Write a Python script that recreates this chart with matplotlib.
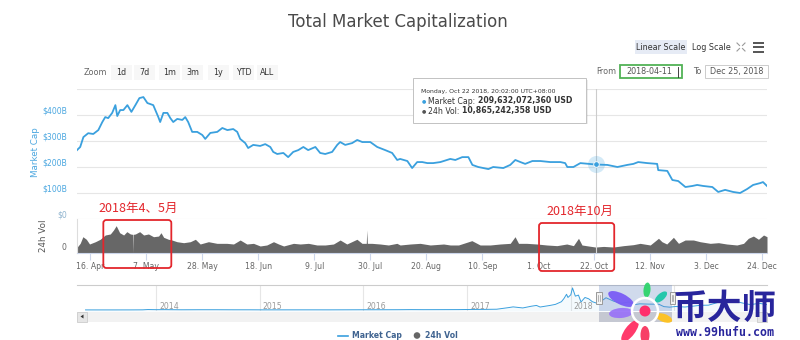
import datetime as dt

import matplotlib
matplotlib.use("Agg")
import matplotlib.pyplot as plt
import matplotlib.dates as mdates
from matplotlib import transforms
from matplotlib.patches import Rectangle, FancyBboxPatch, Ellipse, Circle, Polygon
import numpy as np

plt.rcParams['font.family'] = ['DejaVu Sans']
CJK = ['Noto Sans CJK SC', 'DejaVu Sans']

# ---------------------------------------------------------------- data
START = dt.datetime(2018, 4, 11)          # first point of the selected range
SEL_END = dt.datetime(2018, 12, 25)       # "To" date of the selected range

# total market cap, days after START -> billions of USD
mcap_days = [0.0, 1.2, 2.4, 4.2, 6.1, 8.0, 9.5, 10.6, 11.7, 13.2, 14.4, 15.1, 16.2, 17.4,
             18.9, 20.4, 21.9, 23.4, 24.9, 26.4, 28.6, 29.4, 30.5, 31.2, 32.4, 33.9, 35.0,
             36.1, 37.6, 39.5, 40.6, 41.7, 43.2, 45.1, 47.0, 48.1, 50.0, 52.6, 54.5, 56.4,
             58.6, 60.1, 61.2, 63.1, 64.2, 66.1, 68.7, 70.6, 72.5, 73.6, 75.1, 77.4, 79.2,
             81.1, 83.0, 84.9, 86.7, 89.4, 91.2, 93.1, 95.7, 97.6, 98.7, 100.6, 103.2, 105.1,
             107.0, 110.0, 112.6, 115.6, 118.2, 120.1, 121.2, 123.9, 125.7, 127.6, 129.5,
             131.4, 133.6, 136.3, 140.0, 141.9, 144.5, 146.8, 148.3, 150.5, 154.3, 156.1,
             159.9, 162.5, 164.4, 166.3, 168.1, 170.8, 173.8, 177.5, 181.3, 183.1, 183.9,
             186.2, 188.8, 191.8, 194.501, 198.9, 202.7, 206.4, 208.7, 210.5, 213.9, 217.6,
             218.0, 221.4, 223.3, 225.5, 228.2, 230.8, 232.6, 234.9, 238.3, 240.5, 243.1,
             246.1, 248.7, 251.3, 253.6, 256.2, 257.3, 258.8]
mcap_bn = [265, 277, 315, 330, 327, 342, 373, 392, 388, 408, 438, 396, 419, 419, 438, 412,
           438, 465, 469, 446, 438, 419, 392, 373, 408, 408, 388, 373, 385, 381, 392, 373,
           335, 335, 323, 308, 331, 335, 350, 342, 346, 335, 308, 292, 273, 285, 281, 288,
           277, 258, 250, 254, 238, 258, 265, 277, 265, 277, 254, 250, 258, 285, 296, 285,
           292, 304, 296, 296, 277, 265, 254, 227, 231, 223, 196, 219, 219, 215, 215, 219,
           231, 227, 238, 238, 208, 200, 192, 200, 196, 208, 227, 219, 212, 223, 223, 219,
           219, 215, 200, 200, 215, 212, 209.632, 208, 200, 208, 212, 219, 215, 212, 188,
           185, 150, 146, 123, 127, 131, 127, 123, 104, 112, 104, 100, 115, 131, 138, 142,
           127]

# 24h volume, days after START -> billions of USD
vol_days = [0.2, 1.2, 2.2, 3.5, 4.7, 6.9, 8.7, 10.6, 12.5, 13.7, 14.7, 16.0, 17.5, 18.7,
            20.0, 20.9, 21.0, 21.1, 21.9, 23.5, 25.0, 26.8, 28.7, 30.6, 31.5, 32.5, 34.3,
            35.6, 37.5, 40.0, 42.5, 44.4, 46.2, 49.3, 52.5, 56.2, 58.7, 61.2, 63.7, 66.2,
            68.7, 71.2, 73.7, 75.6, 77.5, 81.2, 83.7, 86.8, 90.0, 93.1, 96.2, 98.7, 101.2,
            105.0, 106.9, 108.5, 108.7, 108.9, 110.6, 113.7, 116.8, 120.0, 121.2, 125.0,
            128.7, 132.5, 137.5, 140.0, 143.1, 148.1, 151.2, 155.0, 158.7, 162.5, 164.3,
            165.6, 168.7, 172.5, 176.2, 180.0, 183.7, 186.2, 188.1, 189.4, 191.8, 194.501,
            197.5, 201.2, 205.0, 208.7, 211.2, 215.0, 218.1, 219.4, 221.2, 223.7, 225.6,
            228.1, 231.2, 233.7, 237.5, 240.6, 243.7, 247.5, 250.0, 251.8, 253.7, 255.6,
            257.5, 258.8]
vol_bn = [11.5, 17.7, 29.7, 25.0, 16.4, 20.6, 25.0, 32.8, 34.7, 42.0, 49.8, 37.0, 32.8, 38.9,
          34.7, 34.0, 0.0, 34.0, 34.7, 38.9, 32.8, 34.7, 29.7, 30.9, 37.0, 28.6, 25.0, 23.7,
          20.6, 18.8, 20.6, 25.0, 16.4, 20.6, 17.6, 17.6, 16.4, 23.7, 16.4, 17.6, 12.8, 14.6,
          20.6, 16.4, 12.8, 17.6, 16.4, 17.6, 14.6, 14.6, 16.4, 23.7, 16.4, 25.0, 17.6, 17.6,
          42.0, 17.6, 17.6, 16.4, 14.6, 17.6, 14.6, 16.4, 17.6, 14.6, 16.4, 14.6, 14.6, 22.5,
          14.6, 14.6, 16.4, 17.6, 29.7, 17.6, 17.6, 16.4, 14.6, 13.4, 16.4, 13.4, 26.8, 14.6,
          12.8, 10.865, 12.0, 10.9, 13.4, 15.2, 17.6, 14.6, 26.8, 20.6, 16.4, 28.6, 17.6,
          23.7, 23.7, 20.6, 17.6, 18.8, 16.4, 14.6, 17.6, 26.8, 30.9, 25.0, 32.8, 29.7]

# hovered point shown in the tooltip
hover_time = dt.datetime(2018, 10, 22, 12, 2)     # 20:02:00 UTC+08:00
hover_label = "Monday, Oct 22 2018, 20:02:00 UTC+08:00"
hover_mcap_usd = 209632072360
hover_vol_usd = 10865242358

# axis ticks
mcap_ticks = [0, 100, 200, 300, 400, 500]
mcap_tick_labels = ["$0", "$100B", "$200B", "$300B", "$400B", ""]
x_tick_dates = ["2018-04-16", "2018-05-07", "2018-05-28", "2018-06-18", "2018-07-09",
                "2018-07-30", "2018-08-20", "2018-09-10", "2018-10-01", "2018-10-22",
                "2018-11-12", "2018-12-03", "2018-12-24"]
x_tick_labels = ["16. Apr", "7. May", "28. May", "18. Jun", "9. Jul", "30. Jul", "20. Aug",
                 "10. Sep", "1. Oct", "22. Oct", "12. Nov", "3. Dec", "24. Dec"]

# navigator: full history of the total market cap, billions of USD
nav_dates = ["2013-04-28", "2013-06-01", "2013-08-01", "2013-10-01", "2013-11-15",
             "2013-12-04", "2014-01-01", "2014-02-01", "2014-03-01", "2014-04-01",
             "2014-06-01", "2014-08-01", "2014-10-01", "2014-12-01", "2015-01-15",
             "2015-04-01", "2015-07-01", "2015-09-01", "2015-11-05", "2016-01-01",
             "2016-03-01", "2016-05-01", "2016-06-18", "2016-08-01", "2016-10-01",
             "2016-12-01", "2017-01-05", "2017-03-01", "2017-04-15", "2017-05-25",
             "2017-06-12", "2017-07-16", "2017-08-15", "2017-09-02", "2017-09-15",
             "2017-10-20", "2017-11-08", "2017-11-29", "2017-12-08", "2017-12-17",
             "2017-12-22", "2018-01-01", "2018-01-07", "2018-01-17", "2018-01-28",
             "2018-02-06", "2018-02-20", "2018-03-05", "2018-03-18", "2018-04-01",
             "2018-04-11", "2018-05-05", "2018-06-01", "2018-06-28", "2018-07-25",
             "2018-08-14", "2018-09-01", "2018-10-01", "2018-11-07", "2018-11-25",
             "2018-12-15", "2019-01-05", "2019-02-07", "2019-03-01", "2019-04-03",
             "2019-05-01", "2019-05-30", "2019-06-26", "2019-07-17", "2019-08-06",
             "2019-08-29", "2019-09-26", "2019-10-27", "2019-11-23"]
nav_bn = [1.6, 1.3, 1.2, 1.7, 4.0, 15.0, 10.0, 11.0, 8.5, 6.0, 8.0, 8.0, 5.8, 5.5, 3.5,
          3.9, 4.2, 3.8, 5.5, 7.0, 7.5, 8.8, 12.5, 10.5, 11.5, 13.0, 17.0, 21.0, 27.0, 85.0,
          115.0, 75.0, 140.0, 170.0, 110.0, 170.0, 210.0, 310.0, 430.0, 590.0, 470.0,
          570.0, 830.0, 520.0, 560.0, 300.0, 470.0, 420.0, 310.0, 260.0, 270.0, 460.0,
          330.0, 250.0, 300.0, 200.0, 230.0, 220.0, 215.0, 125.0, 105.0, 130.0, 110.0,
          135.0, 175.0, 180.0, 270.0, 360.0, 280.0, 320.0, 260.0, 200.0, 250.0, 200.0]
nav_years = [2014, 2015, 2016, 2017, 2018, 2019]
nav_year_labels = ["2014", "2015", "2016", "2017", "2018", ""]   # 2019 sits under the site mark

# highlighted periods with their captions
highlight_spans = [("2018年4、5月", "2018-04-20 21:00", "2018-05-16 09:00"),
                   ("2018年10月", "2018-10-01 07:00", "2018-10-29 12:00")]

range_buttons = ["1d", "7d", "1m", "3m", "1y", "YTD", "ALL"]
legend_items = ["Market Cap", "24h Vol"]

# ---------------------------------------------------------------- style
BLUE = '#3aa0de'
AXIS_BLUE = '#4ba7e0'
VOL_GREY = '#676767'
GRID = '#e6e6e6'
RED = '#e3262c'
INK = '#333333'

W, H = 800, 340
fig = plt.figure(figsize=(W / 100, H / 100), dpi=100)
fig.patch.set_facecolor('white')


def frame(x0, y0, x1, y1):
    return [x0 / W, 1 - y1 / H, (x1 - x0) / W, (y1 - y0) / H]


def days_to_dates(days):
    return [START + dt.timedelta(days=d) for d in days]


ax = fig.add_axes(frame(77, 89, 767, 219))
axv = fig.add_axes(frame(77, 219, 767, 253), sharex=ax)
axn = fig.add_axes(frame(77, 285, 767, 311))
ov = fig.add_axes([0, 0, 1, 1], zorder=10)
ov.set_xlim(0, W)
ov.set_ylim(H, 0)
ov.axis('off')
ov.patch.set_alpha(0)

# ---------------------------------------------------------------- market cap
mdates_list = days_to_dates(mcap_days)
ax.plot(mdates_list, mcap_bn, color=BLUE, lw=1.3, solid_joinstyle='round', zorder=3)
ax.set_xlim(mdates_list[0], mdates_list[-1])
ax.set_ylim(0, 500)
ax.set_yticks(mcap_ticks)
ax.yaxis.grid(True, color=GRID, lw=0.8)
ax.set_axisbelow(True)
ax.tick_params(left=False, labelleft=False, bottom=False, labelbottom=False)
for s in ax.spines.values():
    s.set_visible(False)

ylab_tf = (transforms.blended_transform_factory(ax.transAxes, ax.transData)
           + transforms.ScaledTranslation(0, 4 / 100, fig.dpi_scale_trans))
for v, t in zip(mcap_ticks, mcap_tick_labels):
    ax.text(-10 / 690, v, t, transform=ylab_tf, ha='right', va='center',
            fontsize=5.6, color=AXIS_BLUE if v else '#8fb4cf')
fig.text(35 / W, 1 - 152 / H, "Market Cap", rotation=90, ha='center', va='center',
         fontsize=6.3, color=AXIS_BLUE)

# crosshair and hovered point
hover_mcap = hover_mcap_usd / 1e9
ax.axvline(hover_time, color='#cccccc', lw=0.8, zorder=2)
ax.scatter([hover_time], [hover_mcap], s=150, color=BLUE, alpha=0.22, lw=0, zorder=4)
ax.scatter([hover_time], [hover_mcap], s=16, color=BLUE, edgecolor='white', lw=0.6, zorder=5)

# ---------------------------------------------------------------- volume
vdates = days_to_dates(vol_days)
axv.fill_between(vdates, vol_bn, 0, color=VOL_GREY, lw=0, zorder=2)
axv.axvline(hover_time, color='#d6d6d6', lw=0.8, zorder=3)
axv.set_ylim(0, 62)
for side in ('top', 'right'):
    axv.spines[side].set_visible(False)
axv.spines['left'].set_color('#dddddd')
axv.spines['left'].set_linewidth(0.8)
axv.spines['bottom'].set_color('#ccd6eb')
axv.spines['bottom'].set_linewidth(0.8)
axv.set_xticks([dt.datetime.strptime(d, '%Y-%m-%d') for d in x_tick_dates])
axv.set_xticklabels(x_tick_labels)
axv.tick_params(axis='x', length=5, width=0.8, color='#ccd6eb', labelsize=5.6,
                labelcolor='#666666', pad=1.5)
axv.tick_params(axis='y', left=False, labelleft=False)
vlab_tf = (transforms.blended_transform_factory(axv.transAxes, axv.transData)
           + transforms.ScaledTranslation(0, 5 / 100, fig.dpi_scale_trans))
axv.text(-11 / 690, 0, "0", transform=vlab_tf, ha='right', va='center', fontsize=5.6,
         color='#666666')
fig.text(43.5 / W, 1 - 236 / H, "24h Vol", rotation=90, ha='center', va='center',
         fontsize=6.3, color='#555555')

# ---------------------------------------------------------------- navigator
ndates = [dt.datetime.strptime(d, '%Y-%m-%d') for d in nav_dates]
axn.plot(ndates, nav_bn, color=BLUE, lw=0.7, zorder=3)
axn.fill_between(ndates, nav_bn, -40, color=BLUE, alpha=0.05, lw=0)
axn.set_ylim(-40, 940)
axn.set_xlim(dt.datetime(2013, 3, 29), ndates[-1])
year_dates = [dt.datetime(y, 1, 1) for y in nav_years]
axn.set_xticks(year_dates)
axn.xaxis.grid(True, color=GRID, lw=0.8)
axn.set_axisbelow(True)
axn.tick_params(length=0, labelbottom=False, left=False, labelleft=False)
for side in ('bottom', 'left', 'right'):
    axn.spines[side].set_visible(False)
axn.spines['top'].set_color('#cccccc')
axn.spines['top'].set_linewidth(0.8)
ylab_n = (transforms.blended_transform_factory(axn.transData, axn.transAxes)
          + transforms.ScaledTranslation(3 / 100, 0, fig.dpi_scale_trans))
for yd, lab in zip(year_dates, nav_year_labels):
    if lab:
        axn.text(yd, 0.19, lab, transform=ylab_n, ha='left', va='center', fontsize=5.6,
                 color='#999999')
axn.axvspan(START, SEL_END, color=(0.40, 0.52, 0.76, 0.30), lw=0, zorder=4)


def nav_px(d):
    return axn.transData.transform((mdates.date2num(d), 0))[0]


sx0, sx1 = nav_px(START), nav_px(SEL_END)

# scrollbar
ov.add_patch(Rectangle((77, 312), 690, 9.5, fc='#f2f2f2', ec='none'))
ov.add_patch(Rectangle((sx0, 312), sx1 - sx0, 9.5, fc='#c5c8d2', ec='none'))
ov.add_patch(Rectangle((77, 312), 10, 9.5, fc='#e6e6e6', ec='#cccccc', lw=0.6))
ov.add_patch(Polygon([[83.5, 314.5], [83.5, 318.5], [80.5, 316.5]], closed=True,
                     fc='#333333', ec='none'))
ov.add_patch(Rectangle((757, 312), 10, 9.5, fc='#e6e6e6', ec='#cccccc', lw=0.6))
# navigator handles
for hx in (sx0, sx1):
    ov.add_patch(Rectangle((hx - 2.8, 292), 5.6, 12, fc='#f2f2f2', ec='#999999', lw=0.7))
    ov.plot([hx - 0.8, hx - 0.8], [295, 301], color='#999999', lw=0.5)
    ov.plot([hx + 0.8, hx + 0.8], [295, 301], color='#999999', lw=0.5)

# ---------------------------------------------------------------- header
ov.text(398, 22, "Total Market Capitalization", ha='center', va='center', fontsize=12,
        color='#4a4a4a')

ov.text(95.5, 72.5, "Zoom", ha='center', va='center', fontsize=5.8, color='#666666')
btn_centers = [121, 144, 169.5, 192.5, 218, 243.5, 267.5]
for lab, cx in zip(range_buttons, btn_centers):
    ov.add_patch(Rectangle((cx - 10.5, 65), 21, 15, fc='#f7f7f7', ec='none'))
    ov.text(cx, 72.5, lab, ha='center', va='center', fontsize=5.8, color=INK)

ov.add_patch(Rectangle((635, 39.5), 52, 14.5, fc='#e6ebf5', ec='none'))
ov.text(661, 47, "Linear Scale", ha='center', va='center', fontsize=5.8, color=INK)
ov.text(711, 47, "Log Scale", ha='center', va='center', fontsize=5.8, color=INK)
# full-screen icon: four corner arrows
for (x0, y0, x1, y1) in [(737, 43, 739.5, 45.5), (745, 43, 742.5, 45.5),
                         (737, 51, 739.5, 48.5), (745, 51, 742.5, 48.5)]:
    ov.plot([x0, x1], [y0, y1], color='#999999', lw=0.8)
# menu icon
for yy in (42.5, 47, 51.5):
    ov.plot([753, 764], [yy, yy], color='#555555', lw=1.4, solid_capstyle='butt')

ov.text(606, 72, "From", ha='center', va='center', fontsize=5.8, color='#666666')
ov.add_patch(Rectangle((620, 65), 62, 13, fc='white', ec='#52b256', lw=1.3))
ov.text(649, 71.5, START.strftime('%Y-%m-%d'), ha='center', va='center', fontsize=5.8,
        color='#555555')
ov.plot([677.5, 677.5], [66.5, 76.5], color='#222222', lw=0.6)
ov.text(697, 72, "To", ha='center', va='center', fontsize=5.8, color='#666666')
ov.add_patch(Rectangle((705, 65), 62.5, 13, fc='white', ec='#cccccc', lw=0.7))
ov.text(736.5, 71.5, SEL_END.strftime('%b %d, %Y'), ha='center', va='center',
        fontsize=5.8, color='#555555')

# ---------------------------------------------------------------- tooltip
ov.add_patch(Rectangle((414.5, 79.5), 173, 44.5, fc='black', alpha=0.07, ec='none'))
ov.add_patch(Rectangle((413, 78), 173, 44.5, fc='white', ec='#c2c2c2', lw=0.7))
ov.text(421, 91, hover_label, ha='left', va='center', fontsize=4.4, color=INK)
rows = [(101, BLUE, "Market Cap: ", hover_mcap_usd),
        (111, '#555555', "24h Vol: ", hover_vol_usd)]
for yy, col, name, val in rows:
    ov.text(421.5, yy, "\u25cf", ha='left', va='center', fontsize=3.6, color=col)
    t = ov.text(428, yy, name, ha='left', va='center', fontsize=5.6, color=INK)
    ov.annotate(f"{val:,} USD", xy=(1, 0.5), xycoords=t, ha='left', va='center',
                fontsize=5.6, fontweight='bold', color=INK)

# ---------------------------------------------------------------- highlights
for text, d0, d1 in highlight_spans:
    x0 = ax.transData.transform((mdates.date2num(dt.datetime.strptime(d0, '%Y-%m-%d %H:%M')), 0))[0]
    x1 = ax.transData.transform((mdates.date2num(dt.datetime.strptime(d1, '%Y-%m-%d %H:%M')), 0))[0]
    top = 220 if x0 < 300 else 223
    ov.add_patch(FancyBboxPatch((x0, top), x1 - x0, 48,
                                boxstyle="round,pad=0,rounding_size=3",
                                fc='none', ec=RED, lw=1.3))
    tx = x0 - 5 if x0 < 300 else x0 + 7
    ov.text(tx, top - 12, text, ha='left', va='center', fontsize=9, color=RED, family=CJK)

# ---------------------------------------------------------------- legend
ov.plot([338, 348], [335.5, 335.5], color=BLUE, lw=1.2)
ov.text(352, 335.5, legend_items[0], ha='left', va='center', fontsize=5.6,
        fontweight='bold', color='#3f6390')
ov.add_patch(Circle((417, 335.5), 3.3, fc='#666666', ec='none'))
ov.text(425, 335.5, legend_items[1], ha='left', va='center', fontsize=5.6,
        fontweight='bold', color='#3f6390')

# ---------------------------------------------------------------- site mark
fc, fy = 645, 311
petals = [(-24, -12, 28, 11, '#7a5cf5'), (-24, 2, 24, 10, '#9a74f7'),
          (-15, 20, 26, 10, '#ff2f63'), (0, 24, 18, 9, '#f7365f'),
          (19, 7, 17, 8, '#ffc21f'), (16, -14, 15, 7, '#1cc6a8'),
          (2, -21, 15, 7, '#2ed46c')]
for dx, dy, w, h, col in petals:
    ang = np.degrees(np.arctan2(dy, dx))
    ov.add_patch(Ellipse((fc + dx, fy + dy), w, h, angle=ang, fc=col, ec='none', alpha=0.95))
ov.add_patch(Circle((fc, fy), 13, fc='none', ec='white', lw=1.8))
ov.add_patch(Circle((fc, fy), 5.5, fc='#ff2d6b', ec='none'))
ov.text(725, 308, "币大师", ha='center', va='center', fontsize=25, fontweight='bold',
        color='#28259c', family=CJK)
ov.text(725, 332.5, "www.99hufu.com", ha='center', va='center', fontsize=8.4,
        fontweight='bold', color='#28259c', family='DejaVu Sans Mono')

fig.savefig("out.png", dpi=100, facecolor='white')
